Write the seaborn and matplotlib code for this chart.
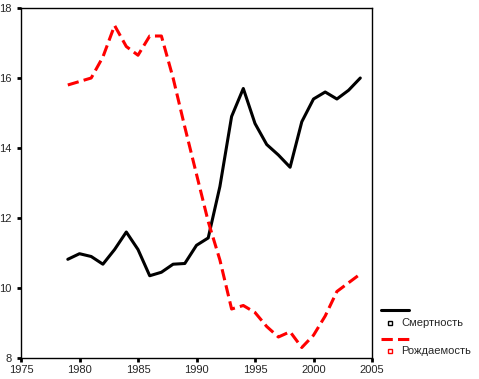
import seaborn as sns
import matplotlib.pyplot as plt
import matplotlib.lines as mlines
import pandas as pd

# yearly values
years = list(range(1979, 2005))
mortality = [10.82, 10.98, 10.90, 10.68, 11.10, 11.60, 11.10, 10.35, 10.45, 10.68,
             10.70, 11.22, 11.43, 12.90, 14.90, 15.70, 14.70, 14.10, 13.80, 13.45,
             14.75, 15.40, 15.60, 15.40, 15.65, 16.00]
birth = [15.80, 15.90, 16.00, 16.60, 17.50, 16.90, 16.65, 17.20, 17.20, 16.00,
         14.60, 13.25, 11.90, 10.80, 9.40, 9.50, 9.30, 8.90, 8.60, 8.75,
         8.30, 8.65, 9.20, 9.90, 10.15, 10.40]
series_names = ["Смертность", "Рождаемость"]
series_colors = ["black", "red"]

df = pd.DataFrame({
    "year": years * 2,
    "value": mortality + birth,
    "series": [series_names[0]] * len(years) + [series_names[1]] * len(years),
})

sns.set_style("ticks")
plt.rcParams["font.family"] = ["Liberation Sans", "DejaVu Sans"]

fig = plt.figure(figsize=(4.79, 3.79), dpi=100)
ax = fig.add_axes([21 / 479, 1 - 358 / 379, (372 - 21) / 479, (358 - 8) / 379])

sns.lineplot(
    data=df, x="year", y="value", hue="series", style="series",
    palette=dict(zip(series_names, series_colors)),
    dashes={series_names[0]: "", series_names[1]: (3.7, 1.7)},
    linewidth=2.2, legend=False, ax=ax,
)

ax.set_xlim(1975, 2005)
ax.set_ylim(8, 18)
ax.set_xticks(range(1975, 2006, 5))
ax.set_yticks(range(8, 19, 2))
ax.set_xlabel("")
ax.set_ylabel("")
ax.tick_params(direction="out", length=3, width=2, labelsize=8, color="black")
ax.tick_params(axis="x", pad=2)
ax.tick_params(axis="y", pad=4)
for s in ax.spines.values():
    s.set_color("black")
    s.set_linewidth(1)

# SPSS-style legend to the right of the plot
def px(x, y):
    return x / 479, 1 - y / 379

legend_rows = [(310, 323), (339, 351)]
for name, color, (ly, ty), dash in zip(series_names, series_colors, legend_rows, ["-", (0, (3.7, 1.7))]):
    x0, y0 = px(381, ly)
    x1, _ = px(409, ly)
    fig.add_artist(mlines.Line2D([x0, x1], [y0, y0], color=color, linewidth=2.2,
                                 linestyle=dash, transform=fig.transFigure))
    mx, my = px(390, ty)
    fig.add_artist(mlines.Line2D([mx], [my], marker="s", markersize=3.5,
                                 markerfacecolor="white", markeredgecolor=color,
                                 markeredgewidth=1, transform=fig.transFigure))
    tx, ty_ = px(401, ty)
    fig.text(tx, ty_, name, fontsize=8, va="center", ha="left")

fig.savefig("out.png", dpi=100)
plt.close(fig)
